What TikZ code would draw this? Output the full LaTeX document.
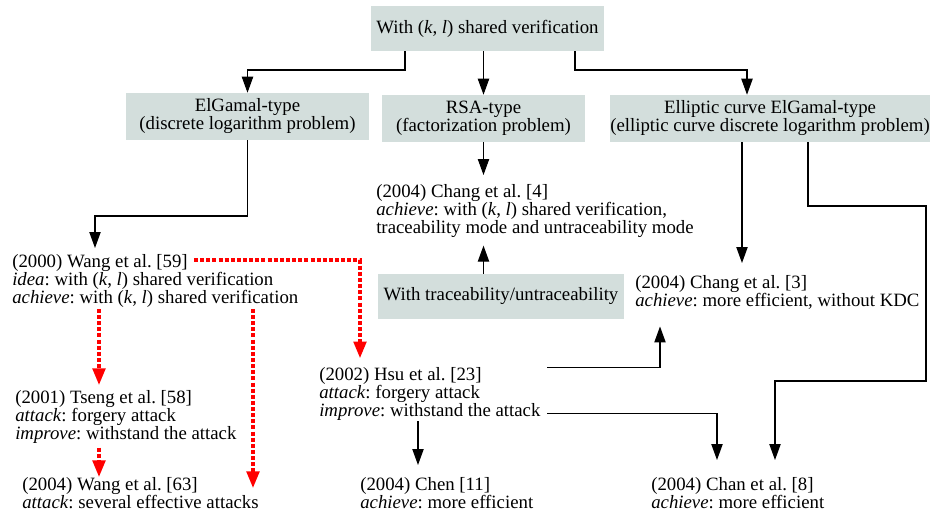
\documentclass[tikz,border=0pt]{standalone}
\usepackage{fontspec}
\setmainfont{Liberation Serif}
\usetikzlibrary{arrows.meta}
\definecolor{boxgray}{RGB}{211,222,220}
\newcommand{\fs}{\fontsize{14.1}{13.5}\selectfont}
\frenchspacing
\tikzset{
  box/.style={fill=boxgray, inner sep=0pt, align=center, font=\fs},
  txt/.style={anchor=north west, inner sep=0pt, align=left, font=\fs},
  arr/.style={line width=0.8pt, -{Triangle[length=12pt,width=8.5pt]}},
  redarr/.style={red, line width=2.5pt, dash pattern=on 3pt off 1.6pt, -{Triangle[length=12.5pt,width=9.5pt]}}
}

\begin{document}
\begin{tikzpicture}[x=0.75pt, y=-0.75pt]
\useasboundingbox (0,0) rectangle (935,517);

% Raiz
\node[box, minimum width=174.75pt, minimum height=33.75pt] (top) at (487.5,28.5) {With (\textit{k}, \textit{l}) shared verification};

% Tipos
\node[box, minimum width=182.25pt, minimum height=35.25pt] (elg) at (247.5,116.5) {ElGamal-type\\(discrete logarithm problem)};
\node[box, minimum width=152.25pt, minimum height=35.25pt] (rsa) at (483.5,118.5) {RSA-type\\(factorization problem)};
\node[box, minimum width=240pt, minimum height=35.25pt] (ecc) at (770,118.5) {Elliptic curve ElGamal-type\\(elliptic curve discrete logarithm problem)};
\node[box, minimum width=184.5pt, minimum height=33.75pt] (trace) at (501,296.5) {With traceability/untraceability};

% Esquemas
\node[txt] (wang00) at (12,254) {(2000) Wang et al. [59]\\\textit{idea}: with (\textit{k}, \textit{l}) shared verification\\\textit{achieve}: with (\textit{k}, \textit{l}) shared verification};
\node[txt] (tseng) at (15,390) {(2001) Tseng et al. [58]\\\textit{attack}: forgery attack\\\textit{improve}: withstand the attack};
\node[txt] (wang04) at (22,477) {(2004) Wang et al. [63]\\\textit{attack}: several effective attacks};
\node[txt] (hsu) at (319,367.5) {(2002) Hsu et al. [23]\\\textit{attack}: forgery attack\\\textit{improve}: withstand the attack};
\node[txt] (chen) at (360,477) {(2004) Chen [11]\\\textit{achieve}: more efficient};
\node[txt] (chang4) at (376,184) {(2004) Chang et al. [4]\\\textit{achieve}: with (\textit{k}, \textit{l}) shared verification,\\traceability mode and untraceability mode};
\node[txt] (chang3) at (635,275) {(2004) Chang et al. [3]\\\textit{achieve}: more efficient, without KDC};
\node[txt] (chan8) at (651,477) {(2004) Chan et al. [8]\\\textit{achieve}: more efficient};

% Pontos de dobra
\coordinate (t1) at (405,70);
\coordinate (t2) at (575,70);
\coordinate (t3) at (747,70);
\coordinate (g1) at (95,216);
\coordinate (e1) at (742,200);
\coordinate (e2) at (808,206);
\coordinate (e3) at (926,381);
\coordinate (e4) at (775,381);
\coordinate (h1) at (660,340);
\coordinate (h2) at (717,440);
\coordinate (h3) at (418,440);
\coordinate (w1) at (194,260);
\coordinate (w2) at (360,300);
\coordinate (w3) at (99,340);
\coordinate (w4) at (253,400);

% Setas pretas
\draw[arr] (top.south -| t1) -- (t1) -| (elg.north);
\draw[arr] (top.south -| rsa.north) -- (rsa.north);
\draw[arr] (top.south -| t2) -- (t2) -- (t3) -- (t3 |- ecc.north);
\draw[arr, shorten >=4.5pt] (elg.south) |- (g1) -- (g1 |- wang00.north);
\draw[arr, shorten >=6.75pt] (rsa.south) -- (rsa.south |- chang4.north);
\draw[arr, shorten >=6pt] (trace.north -| rsa.south) -- (rsa.south |- chang4.south);
\draw[arr, shorten >=9pt] (ecc.south -| e1) -- (e1 |- chang3.north);
\draw[arr, shorten >=12.75pt] (ecc.south -| e2) -- (e2) -| (e3) -- (e4) -- (e4 |- chan8.north);
\draw[arr, shorten >=12.75pt] ([xshift=5pt]hsu.north east) -| (h1 |- chang3.south);
\draw[arr, shorten >=12.75pt] ([xshift=5pt,yshift=6pt]hsu.south east) -| (h2 |- chan8.north);
\draw[arr, shorten >=9pt] (hsu.south -| h3) -- (h3 |- chen.north);

% Setas vermelhas (ataques)
\draw[redarr, shorten >=7pt] (w1) -| (w2 |- hsu.north);
\draw[redarr, shorten <=1pt, shorten >=3.75pt] (wang00.south -| w3) -- (w3 |- tseng.north);
\draw[redarr, shorten <=3pt] (tseng.south -| w3) -- (w3 |- wang04.north);
\draw[redarr, shorten <=1pt, shorten >=-8.25pt] (wang00.south -| w4) -- (w4 |- wang04.north);
\end{tikzpicture}
\end{document}
